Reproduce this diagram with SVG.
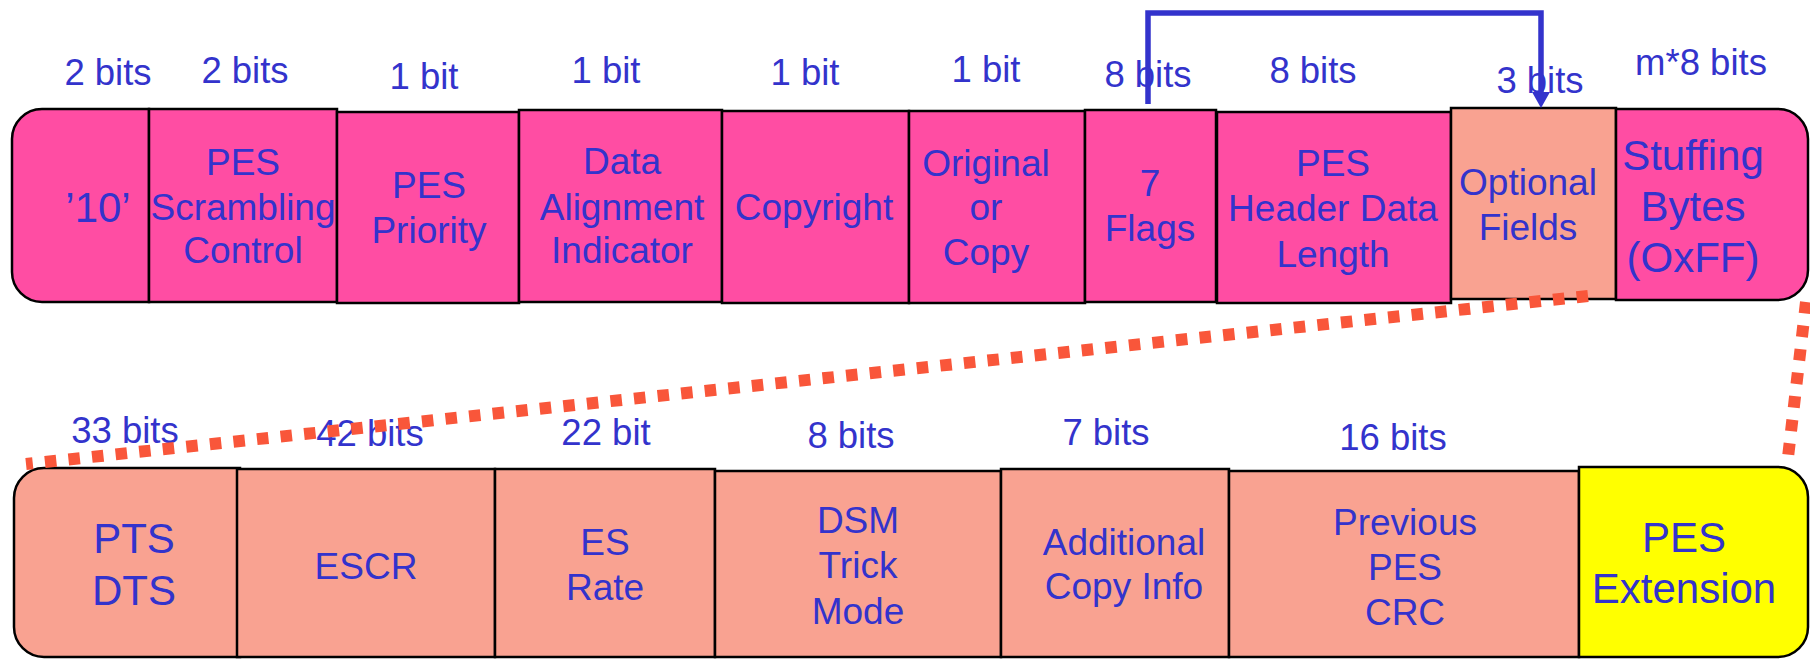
<svg xmlns="http://www.w3.org/2000/svg" width="1810" height="659" viewBox="0 0 1810 659">
<style>
.pink{fill:#FF4DA3;stroke:#000;stroke-width:2.5}
.salmon{fill:#F9A291;stroke:#000;stroke-width:2.5}
.yellow{fill:#FFFF00;stroke:#000;stroke-width:2.5}
text{font-family:"Liberation Sans",Arial,sans-serif;fill:#3333CC;text-anchor:middle}
.t{font-size:37px}
.b{font-size:42px}
.lbl{font-size:36.5px}
.dot{fill:none;stroke:#F9563A;stroke-width:12;stroke-dasharray:11.5 12.2}
.brk{fill:none;stroke:#3333CC;stroke-width:5.5}
</style>
<rect width="1810" height="659" fill="#fff"/>

<g id="labels-top">
<text class="lbl" x="108" y="85">2 bits</text>
<text class="lbl" x="245" y="83">2 bits</text>
<text class="lbl" x="424" y="89">1 bit</text>
<text class="lbl" x="606" y="83">1 bit</text>
<text class="lbl" x="805" y="85">1 bit</text>
<text class="lbl" x="986" y="82">1 bit</text>
<text class="lbl" x="1148" y="87">8 bits</text>
<text class="lbl" x="1313" y="83">8 bits</text>
<text class="lbl" x="1540" y="93">3 bits</text>
<text class="lbl" x="1701" y="75">m*8 bits</text>
</g>

<g id="n-10"><path class="pink" d="M149,109 H42 A30,30 0 0 0 12,139 V272 A30,30 0 0 0 42,302 H149 Z"/><text class="b" x="98" y="222">’10’</text></g>
<g id="n-scrambling"><rect class="pink" x="149" y="109" width="188" height="193"/><text class="t" x="243" y="175">PES</text><text class="t" x="243" y="220">Scrambling</text><text class="t" x="243" y="263">Control</text></g>
<g id="n-priority"><rect class="pink" x="337" y="112" width="182" height="191"/><text class="t" x="429" y="198">PES</text><text class="t" x="429" y="243">Priority</text></g>
<g id="n-alignment"><rect class="pink" x="519" y="110" width="203" height="192"/><text class="t" x="622" y="174">Data</text><text class="t" x="622" y="220">Alignment</text><text class="t" x="622" y="263">Indicator</text></g>
<g id="n-copyright"><rect class="pink" x="722" y="111" width="187" height="192"/><text class="t" x="814" y="220">Copyright</text></g>
<g id="n-original"><rect class="pink" x="909" y="111" width="176" height="192"/><text class="t" x="986" y="176">Original</text><text class="t" x="986" y="220">or</text><text class="t" x="986" y="265">Copy</text></g>
<g id="n-flags"><rect class="pink" x="1085" y="110" width="131" height="192"/><text class="t" x="1150" y="196">7</text><text class="t" x="1150" y="241">Flags</text></g>
<g id="n-header"><rect class="pink" x="1217" y="112" width="234" height="191"/><text class="t" x="1333" y="176">PES</text><text class="t" x="1333" y="221">Header Data</text><text class="t" x="1333" y="267">Length</text></g>
<g id="n-optional"><rect class="salmon" x="1451" y="108" width="165" height="191"/><text class="t" x="1528" y="195">Optional</text><text class="t" x="1528" y="240">Fields</text></g>
<g id="n-stuffing"><path class="pink" d="M1616,109 H1778 A30,30 0 0 1 1808,139 V270 A30,30 0 0 1 1778,300 H1616 Z"/><text class="b" x="1693" y="170">Stuffing</text><text class="b" x="1693" y="221">Bytes</text><text class="b" x="1693" y="272">(OxFF)</text></g>

<g id="labels-bottom">
<text class="lbl" x="125" y="443">33 bits</text>
<text class="lbl" x="370" y="446">42 bits</text>
<text class="lbl" x="606" y="445">22 bit</text>
<text class="lbl" x="851" y="448">8 bits</text>
<text class="lbl" x="1106" y="445">7 bits</text>
<text class="lbl" x="1393" y="450">16 bits</text>
</g>

<g id="n-pts"><path class="salmon" d="M240,468 H44 A30,30 0 0 0 14,498 V627 A30,30 0 0 0 44,657 H240 Z"/><text class="b" x="134" y="553">PTS</text><text class="b" x="134" y="605">DTS</text></g>
<g id="n-escr"><rect class="salmon" x="237" y="469" width="258" height="188"/><text class="t" x="366" y="579">ESCR</text></g>
<g id="n-esrate"><rect class="salmon" x="495" y="469" width="220" height="188"/><text class="t" x="605" y="555">ES</text><text class="t" x="605" y="600">Rate</text></g>
<g id="n-dsm"><rect class="salmon" x="715" y="471" width="286" height="186"/><text class="t" x="858" y="533">DSM</text><text class="t" x="858" y="578">Trick</text><text class="t" x="858" y="624">Mode</text></g>
<g id="n-additional"><rect class="salmon" x="1001" y="469" width="228" height="188"/><text class="t" x="1124" y="555">Additional</text><text class="t" x="1124" y="599">Copy Info</text></g>
<g id="n-crc"><rect class="salmon" x="1229" y="471" width="350" height="186"/><text class="t" x="1405" y="535">Previous</text><text class="t" x="1405" y="580">PES</text><text class="t" x="1405" y="625">CRC</text></g>
<g id="n-extension"><path class="yellow" d="M1579,467 H1778 A30,30 0 0 1 1808,497 V627 A30,30 0 0 1 1778,657 H1579 Z"/><text class="b" x="1684" y="552">PES</text><text class="b" x="1684" y="603">Extension</text></g>

<g id="connectors">
<polyline class="brk" points="1148,104 1148,13 1541,13 1541,94"/>
<path d="M1532,92 L1550,92 L1541,108 Z" fill="#3333CC"/>
<line class="dot" x1="1588" y1="296" x2="26" y2="464"/>
<line class="dot" x1="1806" y1="302" x2="1787" y2="466"/>
</g>
</svg>
